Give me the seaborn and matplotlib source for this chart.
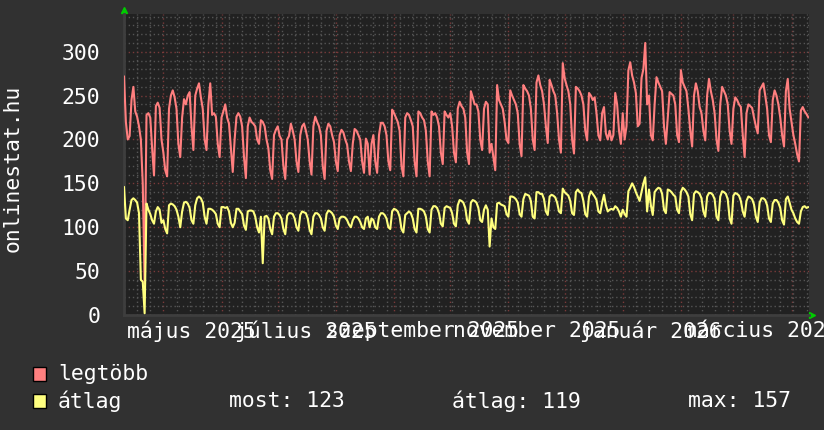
import numpy as np
import pandas as pd
import matplotlib
matplotlib.use("Agg")
import matplotlib.pyplot as plt
import matplotlib.dates as mdates
from matplotlib.patches import Rectangle
import seaborn as sns

# daily values, first day 2025-04-10
start = "2025-04-10"

legtobb = [
    272, 220, 200,
    204, 245, 260, 232, 226, 215, 200,
    150, 36, 228, 230, 225, 190, 159,
    238, 242, 236, 200, 185, 165, 158,
    235, 250, 256, 248, 235, 195, 180,
    225, 246, 240, 250, 254, 215, 188,
    250, 258, 264, 248, 235, 200, 188,
    240, 264, 228, 230, 226, 195, 180,
    225, 232, 240, 225, 218, 190, 163,
    200, 226, 230, 226, 215, 180, 156,
    215, 225, 220, 218, 215, 200, 195,
    222, 220, 215, 200, 190, 165, 155,
    205, 211, 215, 204, 200, 170, 155,
    200, 204, 218, 210, 200, 175, 163,
    205, 215, 218, 210, 200, 175, 160,
    215, 226, 220, 215, 205, 170, 155,
    210, 218, 215, 205, 197, 175, 164,
    205, 211, 208, 200, 194, 175, 164,
    195, 212, 210, 205, 200, 175, 162,
    201, 195, 160, 195, 205, 175, 162,
    205, 219, 219, 215, 205, 175, 165,
    234, 230, 225, 220, 210, 170, 158,
    225, 230, 228, 222, 215, 175, 158,
    232, 230, 225, 222, 210, 175, 158,
    232, 228, 230, 225, 215, 185, 172,
    232, 228, 225, 230, 215, 185, 174,
    235, 243, 238, 235, 225, 185, 172,
    255, 248, 240, 240, 232, 200, 188,
    235, 243, 240, 185, 195, 180, 165,
    262, 245, 240, 235, 220, 200, 196,
    256, 250, 245, 240, 230, 195, 181,
    262, 258, 255, 250, 235, 200, 188,
    265, 273, 262, 255, 240, 215, 196,
    268, 262, 255, 250, 230, 200, 185,
    287, 270, 262, 255, 240, 200, 184,
    260, 258, 255, 250, 240, 210, 199,
    253, 250, 245, 248, 230, 205, 199,
    230, 237, 207, 200, 210, 199, 205,
    253, 240, 210, 195, 230, 200, 215,
    279, 288, 273, 265, 253, 215, 218,
    270, 280, 310, 240, 250, 205, 199,
    240, 271, 265, 260, 255, 215, 195,
    225, 254, 252, 250, 240, 205, 197,
    279, 265, 260, 255, 235, 210, 192,
    250, 264, 255, 237, 230, 210, 199,
    250, 269, 255, 245, 230, 200, 187,
    240, 260, 255, 250, 240, 210, 195,
    235, 248, 245, 240, 237, 205, 180,
    230, 240, 238, 236, 225, 215, 207,
    256, 260, 264, 250, 235, 205, 197,
    245, 256, 250, 240, 225, 205, 192,
    255, 269, 235, 220, 205, 195, 183,
    175, 233, 237, 232, 229, 225,
]

atlag = [
    146, 110, 108,
    120, 131, 133, 131, 128, 116, 40,
    38, 2, 127, 120, 115, 108, 104,
    118, 123, 120, 105, 108, 98, 93,
    125, 127, 126, 124, 120, 112, 100,
    118, 128, 129, 127, 122, 108, 104,
    125, 133, 135, 133, 128, 112, 104,
    121, 121, 120, 118, 115, 104, 100,
    123, 123, 122, 123, 118, 105, 100,
    105, 121, 121, 118, 115, 102, 97,
    118, 119, 119, 118, 112, 100, 94,
    112, 59, 112, 113, 110, 98, 92,
    112, 116, 116, 114, 110, 98, 92,
    113, 116, 116, 115, 110, 100, 96,
    114, 118, 117, 116, 110, 97, 92,
    112, 116, 116, 114, 110, 100, 96,
    115, 119, 118, 116, 112, 102, 98,
    110, 112, 112, 111, 108, 103, 100,
    108, 112, 112, 110, 106, 100, 98,
    110, 112, 100, 110, 108, 100, 98,
    112, 116, 116, 114, 110, 100, 98,
    118, 121, 120, 118, 112, 98, 94,
    114, 116, 118, 116, 110, 98, 94,
    121, 121, 120, 118, 112, 98, 94,
    120, 124, 124, 122, 116, 104, 101,
    122, 124, 123, 122, 116, 104, 101,
    125, 131, 130, 128, 122, 108, 104,
    128, 131, 130, 128, 122, 108, 106,
    120, 125, 120, 78, 110, 100, 98,
    127, 128, 126, 125, 124, 115, 112,
    135, 135, 134, 132, 128, 115, 112,
    132, 138, 137, 136, 130, 112, 110,
    140, 140, 138, 138, 132, 118, 114,
    135, 137, 136, 134, 128, 118, 116,
    144, 140, 138, 136, 130, 116, 114,
    140, 143, 140, 139, 130, 115, 112,
    135, 141, 138, 135, 131, 118, 116,
    128, 137, 125, 118, 120, 121, 120,
    124, 122, 118, 112, 120, 115, 112,
    141, 145, 150, 146, 140, 135, 130,
    140, 150, 157, 118, 143, 125, 114,
    140, 143, 145, 144, 138, 120, 116,
    143, 142, 140, 137, 135, 120, 116,
    140, 145, 143, 140, 135, 115, 108,
    138, 141, 140, 138, 133, 118, 112,
    135, 139, 139, 137, 132, 112, 108,
    135, 141, 140, 138, 132, 110, 104,
    136, 139, 138, 136, 130, 118, 112,
    130, 135, 134, 132, 126, 112, 106,
    128, 133, 133, 131, 125, 110, 106,
    127, 131, 131, 128, 122, 108, 103,
    132, 135, 128, 120, 116, 110, 106,
    104, 118, 123, 124, 122, 123,
]

month_labels = ["május 2025", "július 2025", "szeptember 2025",
                "november 2025", "január 2026", "március 2026"]
label_dates = ["2025-05-16", "2025-07-16", "2025-09-16",
               "2025-11-16", "2026-01-16", "2026-03-16"]
y_ticks = [0, 50, 100, 150, 200, 250, 300]
stat_most, stat_atlag, stat_max = 123, 119, 157

red = "#ff7f7f"
yellow = "#ffff7f"
fig_bg = "#313131"
ax_bg = "#212121"
minor_col = "#555555"
major_col = "#7a3a3a"
txt = "#ffffff"

sns.set_style("dark")
plt.rcParams["font.family"] = ["DejaVu Sans Mono"]
FS = 15.4

n = len(legtobb)
dates = pd.date_range(start, periods=n, freq="D")
df = pd.DataFrame({
    "date": list(dates) * 2,
    "value": legtobb + atlag,
    "series": ["legtöbb"] * n + ["átlag"] * n,
})

fig = plt.figure(figsize=(8.24, 4.30), dpi=100, facecolor=fig_bg)
W, H = 824, 430
ax = fig.add_axes([124 / W, 1 - 315 / H, (809 - 124) / W, (315 - 14) / H])
ax.set_facecolor(ax_bg)

sns.lineplot(data=df, x="date", y="value", hue="series",
             palette={"legtöbb": red, "átlag": yellow}, ax=ax,
             legend=False, linewidth=1.5, zorder=3)

ax.set_xlim(pd.Timestamp("2025-04-10"), pd.Timestamp("2026-04-10 08:00"))
ax.set_ylim(0, 343)

# grid: weeks / months, 10 / 50
ax.xaxis.set_major_locator(mdates.MonthLocator())
ax.xaxis.set_minor_locator(mdates.WeekdayLocator(byweekday=mdates.TH))
ax.set_yticks(y_ticks)
ax.set_yticks(np.arange(10, 343, 10), minor=True)
ax.grid(which="minor", axis="both", color=minor_col, linestyle=(0, (1, 2)),
        linewidth=1.0, visible=True)
ax.grid(which="major", axis="both", color=major_col, linestyle=(0, (1, 2)),
        linewidth=1.0, visible=True)
ax.set_axisbelow(True)

ax.set_xticklabels([])
ax.tick_params(axis="x", which="major", length=3, color=major_col)
ax.tick_params(axis="x", which="minor", length=0)
ax.tick_params(axis="y", which="major", length=2, color=major_col,
               labelsize=FS, labelcolor=txt, pad=15)
ax.tick_params(axis="y", which="minor", length=0)
ax.set_xlabel("")
ax.set_ylabel("")

for s in ["top", "right"]:
    ax.spines[s].set_visible(False)
for s in ["left", "bottom"]:
    ax.spines[s].set_color("#3e3e3e")
    ax.spines[s].set_linewidth(2)

# month labels
for lab, d in zip(month_labels, label_dates):
    ax.text(pd.Timestamp(d), -16 / 301, lab, transform=ax.get_xaxis_transform(),
            ha="center", va="center", fontsize=FS, color=txt, clip_on=False)

# axis arrows
ax.plot([0], [1.0 + 4 / 301], marker="^", color="#00cc00", markersize=4,
        transform=ax.transAxes, clip_on=False)
ax.plot([1.0045], [0], marker=">", color="#00cc00", markersize=4,
        transform=ax.transAxes, clip_on=False)

fig.text(13 / W, 1 - 168 / H, "onlinestat.hu", rotation=90, ha="center",
         va="center", fontsize=FS, color=txt)

# legend
for yc, col in [(374, red), (401, yellow)]:
    fig.patches.append(Rectangle((33 / W, 1 - (yc + 7) / H), 13 / W, 14 / H,
                                 transform=fig.transFigure, facecolor=col,
                                 edgecolor="black", linewidth=1))
fig.text(58 / W, 1 - 374 / H, "legtöbb", ha="left", va="center", fontsize=FS, color=txt)
fig.text(58 / W, 1 - 401 / H, "átlag", ha="left", va="center", fontsize=FS, color=txt)
fig.text(229 / W, 1 - 401 / H, f"most: {stat_most}", ha="left", va="center",
         fontsize=FS, color=txt)
fig.text(452 / W, 1 - 401 / H, f"átlag: {stat_atlag}", ha="left", va="center",
         fontsize=FS, color=txt)
fig.text(688 / W, 1 - 401 / H, f"max: {stat_max}", ha="left", va="center",
         fontsize=FS, color=txt)

fig.savefig("out.png", dpi=100, facecolor=fig_bg)
